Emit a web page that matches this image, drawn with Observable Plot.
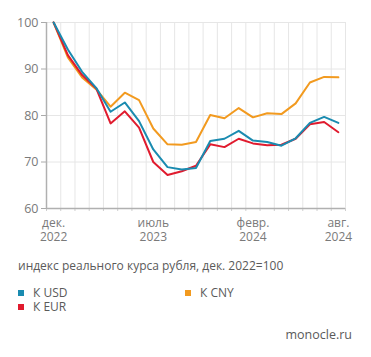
<!DOCTYPE html>
<html>
<head>
<meta charset="utf-8">
<script src="https://cdn.jsdelivr.net/npm/d3@7"></script>
<script src="https://cdn.jsdelivr.net/npm/@observablehq/plot@0.6"></script>
<style>
  html, body { margin: 0; padding: 0; background: #fff; }
  #wrap { position: relative; width: 371px; height: 357px; font-family: "Open Sans", sans-serif; overflow: hidden; }
  #chart { position: absolute; left: 0; top: 0; }
  .sub { position: absolute; left: 18px; top: 257px; font-size: 12px; color: #5a5a5a; white-space: nowrap; }
  .leg { position: absolute; font-size: 12px; line-height: 13px; height: 13px; color: #5a5a5a; white-space: nowrap; display: flex; align-items: center; }
  .sw { width: 6px; height: 6px; margin-right: 9px; display: inline-block; }
  .src { position: absolute; right: 19px; top: 326px; font-size: 12.5px; color: #5a5a5a; }
</style>
</head>
<body>
<div id="wrap">
  <div id="chart"></div>
  <div class="sub">индекс реального курса рубля, дек. 2022=100</div>
  <div id="legend"></div>
  <div class="src">monocle.ru</div>
</div>
<script>
// months Dec 2022 .. Aug 2024 (index 0..20)
const months = ["2022-12","2023-01","2023-02","2023-03","2023-04","2023-05","2023-06","2023-07","2023-08","2023-09","2023-10","2023-11","2023-12","2024-01","2024-02","2024-03","2024-04","2024-05","2024-06","2024-07","2024-08"];
const usd = [100, 94.2, 89.4, 85.9, 80.8, 82.8, 78.8, 72.7, 68.9, 68.4, 68.7, 74.5, 75.0, 76.7, 74.6, 74.3, 73.5, 75.1, 78.4, 79.7, 78.4];
const eur = [100, 93.0, 88.7, 85.8, 78.3, 80.9, 77.4, 70.0, 67.2, 68.0, 69.2, 73.8, 73.2, 75.0, 74.0, 73.6, 73.7, 75.0, 78.1, 78.6, 76.4];
const cny = [100, 92.5, 88.2, 85.6, 81.9, 84.9, 83.3, 77.2, 73.8, 73.7, 74.3, 80.1, 79.4, 81.6, 79.6, 80.5, 80.3, 82.6, 87.1, 88.3, 88.2];
const seriesNames = ["К USD", "К EUR", "К CNY"];
const seriesColors = ["#1a8bb0", "#e01b2e", "#f29a1f"];
const tickIdx = [0, 7, 14, 20];
const tickLabels = ["дек.\n2022", "июль\n2023", "февр.\n2024", "авг.\n2024"];
const yTicks = [60, 70, 80, 90, 100];

const toRows = (arr, name) => arr.map((v, i) => ({i, v, name, month: months[i]}));
const rows = {usd: toRows(usd, seriesNames[0]), eur: toRows(eur, seriesNames[1]), cny: toRows(cny, seriesNames[2])};

const chart = Plot.plot({
  width: 371, height: 250,
  marginLeft: 46, marginRight: 26, marginTop: 22, marginBottom: 42,
  style: {fontFamily: "Open Sans, sans-serif", fontSize: "12.5px", color: "#7a7a7a", background: "white"},
  x: {domain: [-0.5, 20.5], axis: null},
  y: {domain: [60, 100], axis: null},
  marks: [
    Plot.ruleX(d3.range(0.5, 20.6, 1), {stroke: "#e6e6e6", strokeWidth: 1}),
    Plot.ruleY([70, 80, 90, 100], {stroke: "#e6e6e6", strokeWidth: 1}),
    Plot.axisX({ticks: d3.range(-0.5, 20.6, 1), tickSize: 3, tickFormat: () => "", stroke: "#cfcfcf", label: null}),
    Plot.axisX({ticks: tickIdx, tickSize: 0, tickPadding: 9, tickFormat: d => tickLabels[tickIdx.indexOf(d)], fill: "#7a7a7a", fontSize: 12, lineHeight: 1.15, label: null}),
    Plot.axisY({ticks: yTicks, tickSize: 5, tickPadding: 3, stroke: "#aaaaaa", fill: "#7a7a7a", fontSize: 12.5, label: null}),
    Plot.ruleX([-0.5], {stroke: "#b0b0b0", strokeWidth: 1.5}),
    Plot.ruleY([60], {stroke: "#b0b0b0", strokeWidth: 1.5}),
    Plot.line(rows.cny, {x: "i", y: "v", stroke: seriesColors[2], strokeWidth: 2}),
    Plot.line(rows.eur, {x: "i", y: "v", stroke: seriesColors[1], strokeWidth: 2}),
    Plot.line(rows.usd, {x: "i", y: "v", stroke: seriesColors[0], strokeWidth: 2})
  ]
});
document.getElementById("chart").appendChild(chart);

const legendPos = [[18, 286], [18, 300], [185, 286]];
const leg = document.getElementById("legend");
seriesNames.forEach((n, k) => {
  const d = document.createElement("div");
  d.className = "leg";
  d.style.left = legendPos[k][0] + "px";
  d.style.top = legendPos[k][1] + "px";
  d.innerHTML = `<span class="sw" style="background:${seriesColors[k]}"></span>${n}`;
  leg.appendChild(d);
});
</script>
</body>
</html>
